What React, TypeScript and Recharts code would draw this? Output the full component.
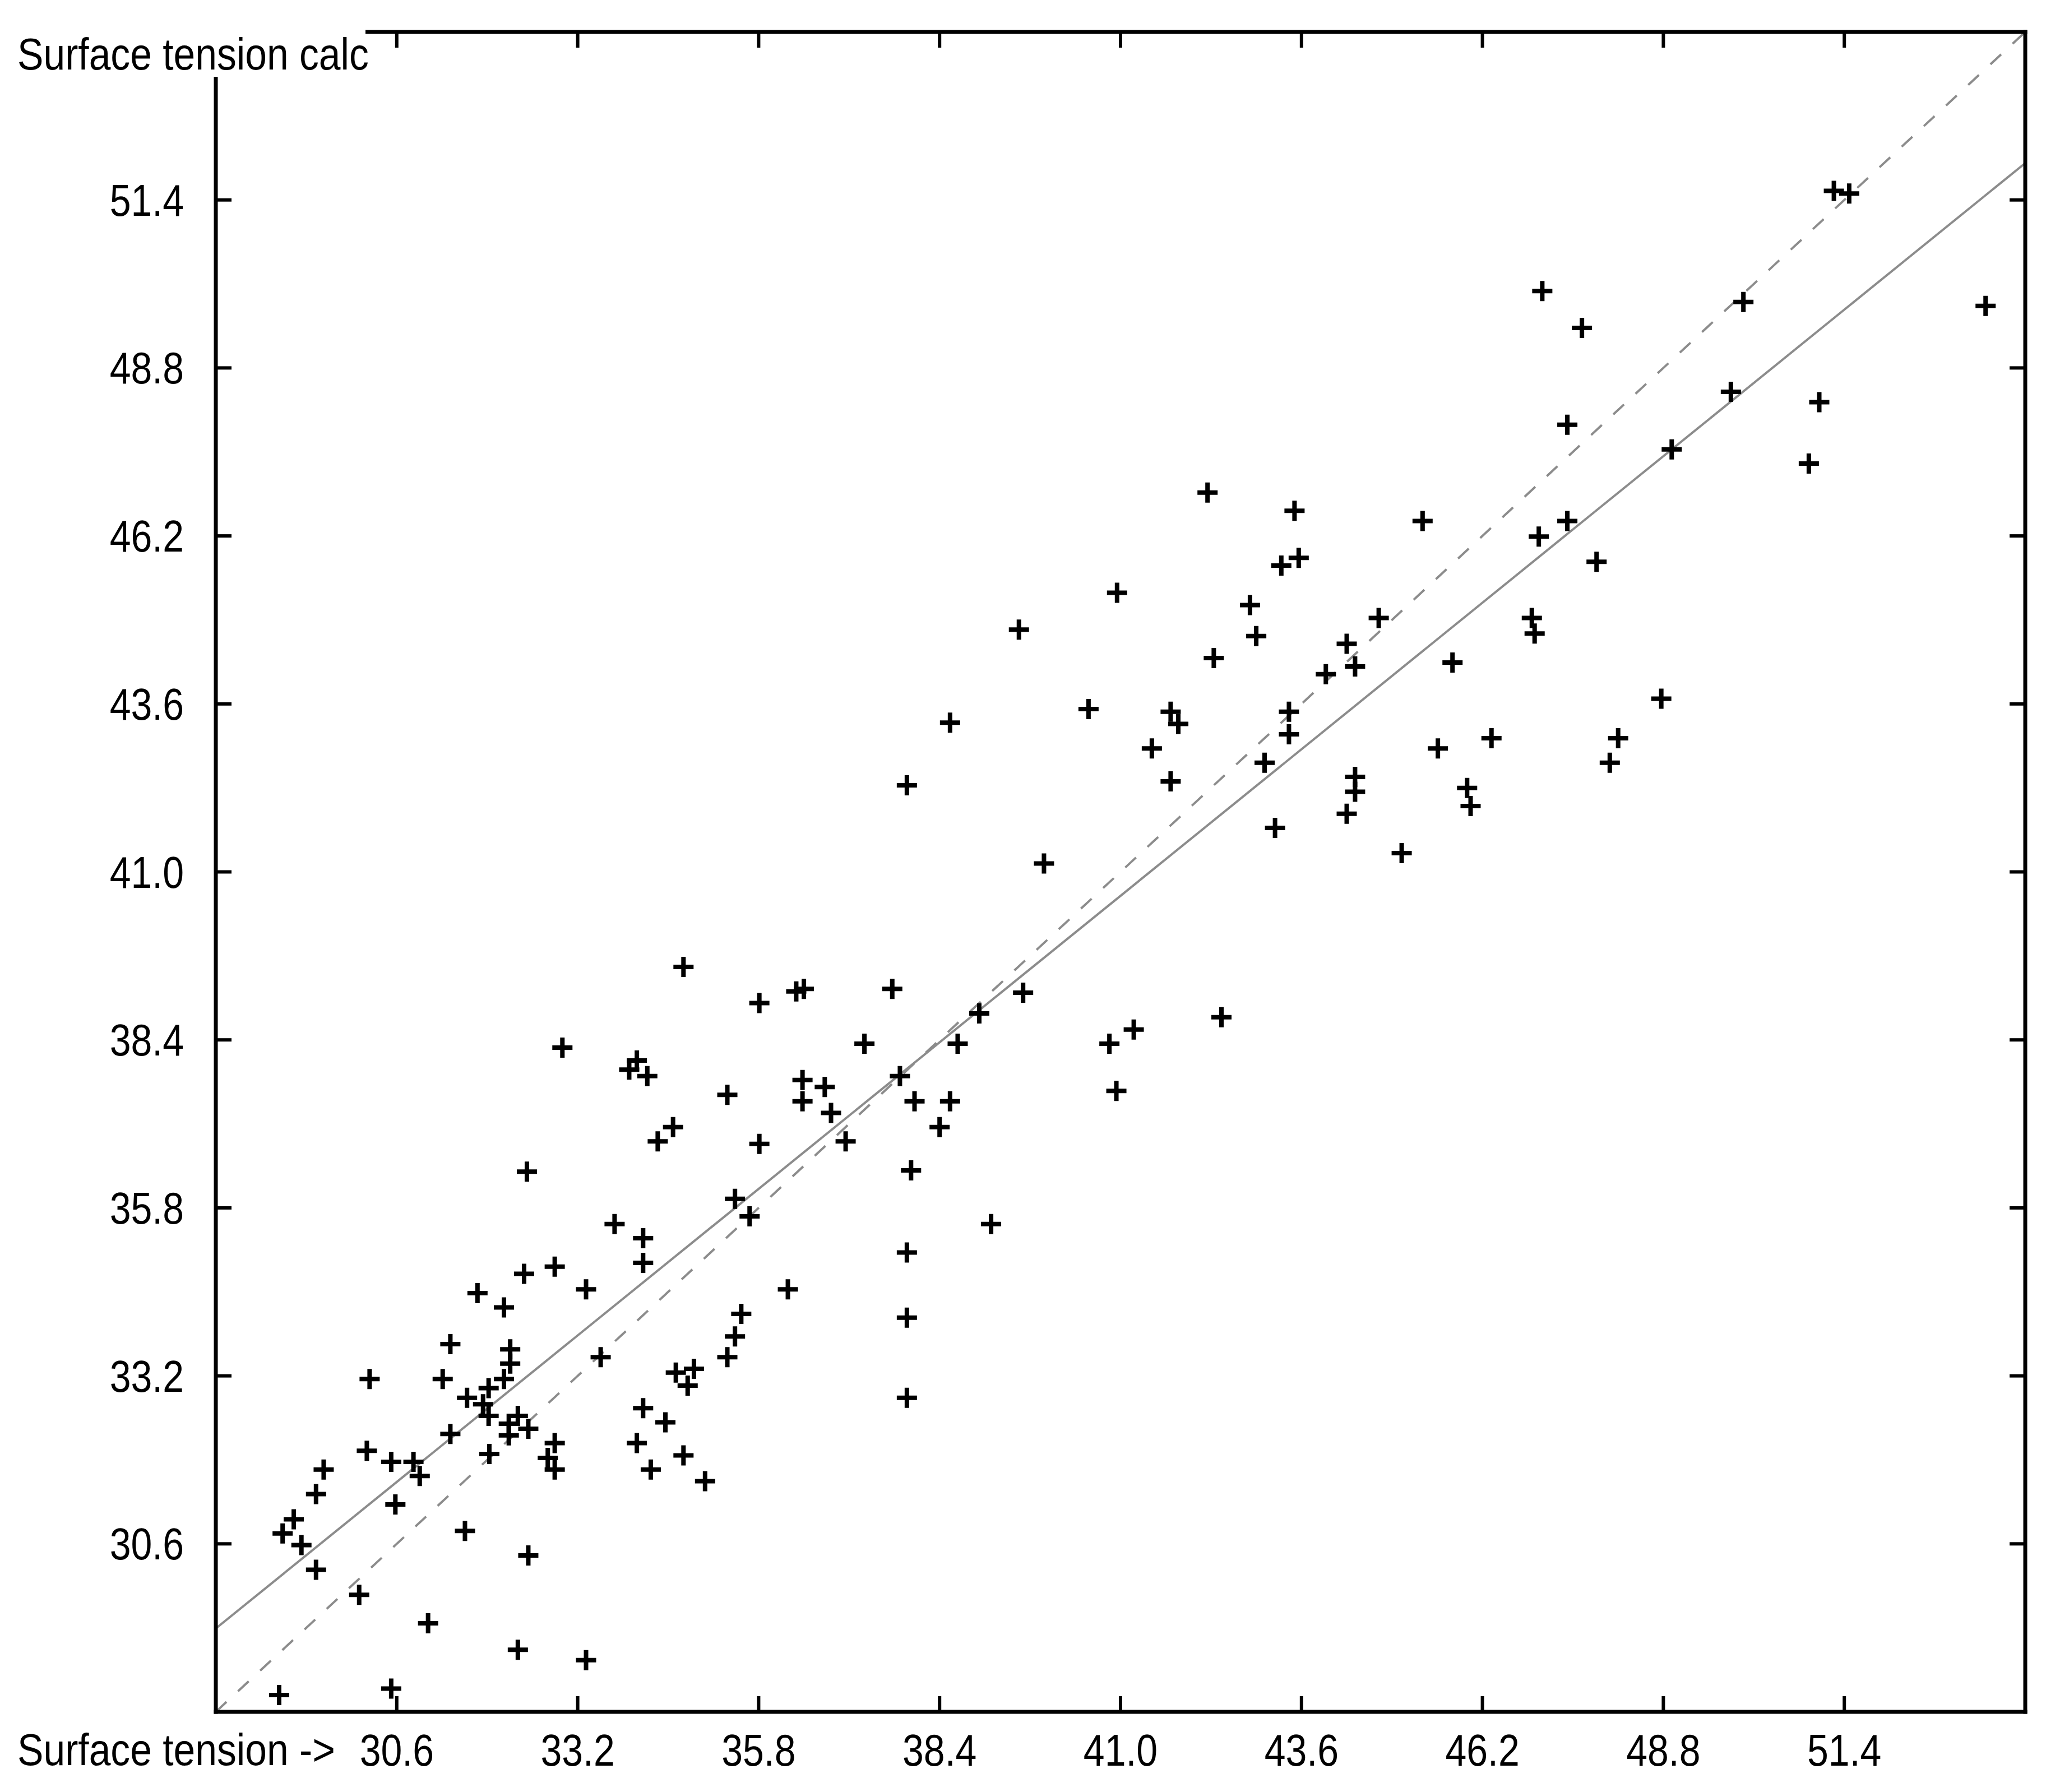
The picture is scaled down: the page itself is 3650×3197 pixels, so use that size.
import React from "react";
import {
  ScatterChart,
  Scatter,
  XAxis,
  YAxis,
  ReferenceLine,
} from "recharts";

const measured = [
  51.25, 51.47, 47.06, 49.95, 53.43, 47.63, 49.77, 51.04, 47.42, 48.92,
  50.89, 42.25, 43.5, 45.34, 47.42, 47.01, 43.56, 43.31, 47.84, 40.95,
  42.86, 44.71, 46.91, 46.95, 39.54, 42.95, 44.25, 42.34, 45.77, 44.37,
  43.95, 48.77, 40.54, 43.42, 41.72, 41.83, 38.55, 43.42, 46.33, 48.15,
  41.45, 45.56, 43.07, 48.03, 44.37, 44.37, 45.98, 41.72, 37.93, 46.03,
  44.25, 43.22, 45.04, 39.9, 34.72, 36.34, 36.45, 37.72, 39.6, 35.81,
  38.97, 42.45, 41.19, 37.32, 40.84, 38.66, 32.98, 34.05, 33.94, 34.2,
  36.43, 36.75, 37.83, 35.35, 40.94, 36.43, 38.04, 38.55, 36.84, 34.57,
  38.4, 34.35, 37.05, 35.81, 32.47, 37.99, 35.46, 35.67, 39.14, 33.73,
  34.14, 34.14, 37.93, 32.87, 32.43, 33.32, 31.76, 36.22, 32.14, 35.55,
  37.93, 35.46, 31.37, 32.23, 32.23, 33.53, 35.35, 34.87, 30.21, 31.26,
  32.14, 34.61, 34.78, 31.92, 31.61, 31.84, 31.92, 37.93, 34.14, 32.34,
  32.21, 32.49, 32.21, 34.46, 31.37, 32.87, 34.05, 30.17, 31.93, 32.77,
  34.72, 30.52, 30.84, 32.87, 34.25, 29.55, 30.93, 35.03, 29.44, 30.58,
  29.12, 28.96, 31.58, 29.23, 29.44, 32.49, 30.06, 31.05, 32.34, 33.32,
  30.52, 28.91,
];

const calculated = [
  51.54, 51.5, 49.99, 49.82, 49.76, 49.42, 48.43, 48.27, 47.92, 47.54,
  47.32, 46.87, 46.59, 46.43, 46.43, 46.19, 45.86, 45.74, 45.8, 45.32,
  45.13, 44.93, 44.93, 44.69, 44.75, 44.65, 44.53, 44.31, 44.24, 44.18,
  44.06, 43.68, 43.52, 43.48, 43.48, 43.29, 43.31, 43.13, 43.07, 43.07,
  42.91, 42.91, 42.69, 42.69, 42.47, 42.24, 42.3, 42.4, 42.34, 42.02,
  41.9, 41.68, 41.29, 41.13, 39.53, 39.15, 39.19, 39.19, 39.13, 38.97,
  38.81, 38.75, 38.56, 38.34, 38.34, 38.34, 38.28, 38.08, 37.94, 37.84,
  37.78, 37.67, 37.84, 37.55, 37.61, 37.45, 37.45, 37.45, 37.27, 37.05,
  37.05, 36.83, 36.83, 36.79, 36.36, 36.38, 35.94, 35.67, 35.55, 35.55,
  35.33, 34.95, 35.11, 34.89, 34.78, 34.54, 34.48, 34.54, 34.26, 34.16,
  34.1, 33.81, 33.69, 33.61, 33.39, 33.49, 33.49, 33.31, 33.15, 33.15,
  33.15, 33.25, 33.05, 33.01, 32.86, 32.76, 32.58, 32.86, 32.7, 32.58,
  32.46, 32.38, 32.28, 32.48, 32.3, 32.16, 32.16, 32.04, 31.99, 31.93,
  31.97, 31.87, 31.87, 31.75, 31.75, 31.75, 31.65, 31.57, 31.37, 31.21,
  30.98, 30.76, 30.8, 30.58, 30.2, 30.42, 29.81, 29.37, 28.96, 28.8,
  28.36, 28.26,
];

const axisRange = [28, 54];
const tickValues = [30.6, 33.2, 35.8, 38.4, 41.0, 43.6, 46.2, 48.8, 51.4];

// regression line end points, and the y = x line
const fitX = [28, 54];
const fitY = [29.29, 51.97];

const points = measured.map((x, i) => ({ x, y: calculated[i] }));

const FONT = "'Liberation Sans', Arial, sans-serif";
const TICK_LEN = 28;

const Plus = (props: any) => {
  const { cx, cy } = props;
  return (
    <path
      d={`M${cx - 18},${cy}H${cx + 18}M${cx},${cy - 18}V${cy + 18}`}
      stroke="#000"
      strokeWidth={8}
      fill="none"
    />
  );
};

const Nothing = () => <g />;

const BottomTick = (props: any) => {
  const { x, y, payload } = props;
  return (
    <g>
      <line x1={x} y1={y} x2={x} y2={y - TICK_LEN} stroke="#000" strokeWidth={6} />
      <text
        transform={`translate(${x},${y + 96}) scale(0.85,1)`}
        textAnchor="middle"
        fontSize={80}
        fontFamily={FONT}
        fill="#000"
      >
        {Number(payload.value).toFixed(1)}
      </text>
    </g>
  );
};

// top axis: y handed in is the line itself (height 1 strip above the plot)
const TopTick = (props: any) => {
  const { x, y } = props;
  return <line x1={x} y1={y} x2={x} y2={y + TICK_LEN} stroke="#000" strokeWidth={6} />;
};

const LeftTick = (props: any) => {
  const { x, y, payload } = props;
  return (
    <g>
      <line x1={x} y1={y} x2={x + TICK_LEN} y2={y} stroke="#000" strokeWidth={6} />
      <text
        transform={`translate(${x - 57},${y + 28}) scale(0.85,1)`}
        textAnchor="end"
        fontSize={80}
        fontFamily={FONT}
        fill="#000"
      >
        {Number(payload.value).toFixed(1)}
      </text>
    </g>
  );
};

const RightTick = (props: any) => {
  const { x, y } = props;
  return <line x1={x} y1={y} x2={x - TICK_LEN} y2={y} stroke="#000" strokeWidth={6} />;
};

const frame = { stroke: "#000", strokeWidth: 7, strokeLinecap: "square" as const };

const labelStyle: React.CSSProperties = {
  position: "absolute",
  fontFamily: FONT,
  fontSize: 80,
  lineHeight: "80px",
  whiteSpace: "nowrap",
  transform: "scaleX(0.87)",
  transformOrigin: "left top",
  color: "#000",
};

export default function App() {
  return (
    <div
      style={{
        position: "absolute",
        left: 0,
        top: 0,
        width: 3650,
        height: 3197,
        background: "#fff",
      }}
    >
      <ScatterChart
        width={3650}
        height={3197}
        margin={{ top: 56, right: 36, bottom: 0, left: 0 }}
      >
        <XAxis
          xAxisId="b"
          type="number"
          dataKey="x"
          domain={axisRange}
          ticks={tickValues}
          interval={0}
          allowDataOverflow
          height={143}
          axisLine={frame}
          tickLine={false}
          tickSize={0}
          tickMargin={0}
          tick={<BottomTick />}
        />
        <XAxis
          xAxisId="t"
          orientation="top"
          type="number"
          dataKey="x"
          domain={axisRange}
          ticks={tickValues}
          interval={0}
          allowDataOverflow
          height={1}
          axisLine={frame}
          tickLine={false}
          tickSize={0}
          tickMargin={0}
          tick={<TopTick />}
        />
        <YAxis
          yAxisId="l"
          type="number"
          dataKey="y"
          domain={axisRange}
          ticks={tickValues}
          interval={0}
          allowDataOverflow
          width={385}
          axisLine={frame}
          tickLine={false}
          tickSize={0}
          tickMargin={0}
          tick={<LeftTick />}
        />
        <YAxis
          yAxisId="r"
          orientation="right"
          type="number"
          dataKey="y"
          domain={axisRange}
          ticks={tickValues}
          interval={0}
          allowDataOverflow
          width={1}
          axisLine={frame}
          tickLine={false}
          tickSize={0}
          tickMargin={0}
          tick={<RightTick />}
        />
        <ReferenceLine
          xAxisId="b"
          yAxisId="l"
          segment={[
            { x: axisRange[0], y: axisRange[0] },
            { x: axisRange[1], y: axisRange[1] },
          ]}
          stroke="#8c8c8c"
          strokeWidth={4}
          strokeDasharray="26 28"
        />
        <ReferenceLine
          xAxisId="b"
          yAxisId="l"
          segment={[
            { x: fitX[0], y: fitY[0] },
            { x: fitX[1], y: fitY[1] },
          ]}
          stroke="#8c8c8c"
          strokeWidth={4}
        />
        {/* invisible copy so the top and right frame axes get drawn */}
        <Scatter
          xAxisId="t"
          yAxisId="r"
          data={points}
          shape={<Nothing />}
          legendType="none"
          isAnimationActive={false}
        />
        <Scatter
          xAxisId="b"
          yAxisId="l"
          data={points}
          shape={<Plus />}
          isAnimationActive={false}
        />
      </ScatterChart>

      <div
        style={{
          position: "absolute",
          left: 0,
          top: 0,
          width: 652,
          height: 137,
          background: "#fff",
        }}
      >
        <div style={{ ...labelStyle, left: 31, top: 57 }}>Surface tension calc</div>
      </div>
      <div style={{ ...labelStyle, left: 31, top: 3082 }}>Surface tension -&gt;</div>
    </div>
  );
}
